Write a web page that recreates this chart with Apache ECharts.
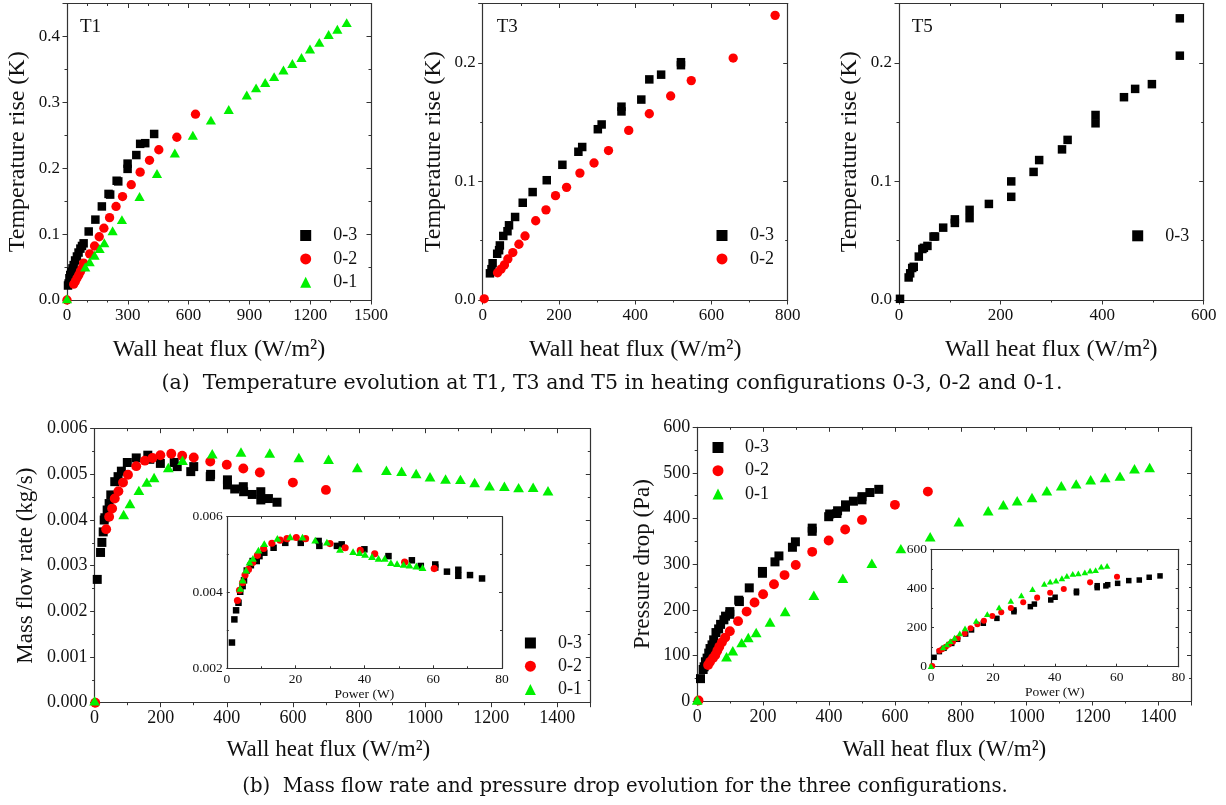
<!DOCTYPE html>
<html><head><meta charset="utf-8">
<script src="https://cdn.jsdelivr.net/npm/echarts@6/dist/echarts.min.js"></script>
<style>html,body{margin:0;padding:0;background:#fff}#c{width:1226px;height:805px}</style>
</head><body><div id="c"></div>
<script>
// ---------- DATA ----------
const seriesNames = ['0-3', '0-2', '0-1'];
// T1 panel: wall heat flux (W/m2) vs temperature rise (K)
const t1_03 = [[5,0.022],[8,0.025],[12,0.033],[16,0.038],[21,0.043],[27,0.048],[33,0.053],[40,0.06],[49,0.066],[57,0.072],[66,0.078],[74,0.082],[82,0.086],[107,0.104],[140,0.122],[172,0.142],[205,0.161],[213,0.160],[245,0.181],[253,0.180],[299,0.207],[299,0.199],[342,0.220],[361,0.237],[386,0.238],[430,0.252]];
const t1_02 = [[0,0],[33,0.024],[41,0.028],[49,0.033],[58,0.038],[66,0.043],[74,0.048],[82,0.056],[112,0.07],[136,0.082],[159,0.096],[182,0.109],[210,0.125],[242,0.142],[274,0.157],[317,0.175],[361,0.194],[407,0.212],[453,0.228],[542,0.247],[634,0.282]];
const t1_01 = [[0,0.002],[90,0.05],[112,0.058],[136,0.068],[161,0.078],[184,0.087],[225,0.105],[271,0.122],[358,0.157],[444,0.192],[532,0.223],[621,0.25],[710,0.273],[798,0.289],[887,0.311],[933,0.322],[978,0.33],[1022,0.339],[1068,0.349],[1112,0.359],[1157,0.368],[1199,0.381],[1245,0.391],[1291,0.403],[1334,0.411],[1380,0.421]];
// T3 panel
const t3_03 = [[19,0.0225],[23,0.026],[26,0.031],[38,0.039],[43,0.042],[45,0.046],[54,0.054],[65,0.058],[69,0.063],[85,0.070],[105,0.082],[131,0.091],[168,0.101],[209,0.114],[251,0.125],[261,0.129],[302,0.144],[312,0.148],[364,0.159],[364,0.163],[416,0.169],[437,0.186],[468,0.19],[520,0.198],[520,0.2005]];
const t3_02 = [[4,0.001],[39,0.023],[48,0.026],[57,0.0296],[66,0.0346],[79,0.040],[95,0.047],[111,0.054],[139,0.0668],[166,0.076],[191,0.088],[220,0.095],[255,0.107],[292,0.1155],[330,0.126],[383,0.143],[437,0.157],[493,0.172],[547,0.185],[657,0.204],[767,0.240]];
// T5 panel
const t5_03 = [[2,0.001],[19,0.019],[22,0.0225],[26,0.027],[29,0.028],[39,0.0366],[46,0.043],[49,0.044],[56,0.0456],[68,0.0535],[71,0.0535],[87,0.061],[110,0.065],[110,0.068],[139,0.069],[139,0.076],[177,0.081],[221,0.087],[221,0.100],[265,0.108],[276,0.118],[321,0.127],[332,0.135],[387,0.149],[387,0.156],[443,0.171],[465,0.178],[498,0.182],[553,0.206],[553,0.2375]];
// Mass flow rate (kg/s) vs wall heat flux
const mf_03 = [[8,0.0027],[18,0.00329],[22,0.00351],[26,0.00374],[29,0.0040],[31,0.00405],[38,0.00422],[44,0.00436],[49,0.00455],[61,0.00484],[71,0.00495],[81,0.00507],[99,0.00526],[126,0.00536],[161,0.00542],[167,0.00533],[199,0.00524],[241,0.00526],[250,0.00517],[291,0.00506],[300,0.00517],[350,0.00495],[351,0.005],[402,0.00488],[402,0.00477],[424,0.00468],[450,0.00473],[451,0.00462],[477,0.00456],[503,0.00462],[503,0.00444],[526,0.00447],[552,0.00439]];
const mf_02 = [[2,0],[35,0.0038],[44,0.00407],[53,0.00425],[61,0.00447],[72,0.00463],[86,0.00482],[101,0.00499],[126,0.00518],[152,0.0053],[175,0.00536],[199,0.00542],[232,0.00545],[265,0.00541],[300,0.00537],[350,0.00528],[400,0.00521],[450,0.00513],[500,0.00504],[600,0.00482],[700,0.00466]];
const mf_01 = [[0,0.00004],[88,0.00412],[107,0.00436],[134,0.00465],[158,0.00483],[180,0.00493],[223,0.00515],[266,0.00531],[356,0.00545],[443,0.00549],[530,0.00547],[618,0.00537],[708,0.00533],[795,0.00515],[883,0.00509],[929,0.00507],[973,0.00502],[1015,0.00495],[1062,0.0049],[1107,0.00489],[1150,0.00482],[1195,0.00475],[1240,0.00474],[1283,0.00471],[1327,0.00472],[1372,0.00464]];
// Mass flow rate vs power (W), inset
const mfp_03 = [[1.5,0.00268],[2.2,0.00329],[2.7,0.00353],[3.4,0.00373],[3.9,0.00402],[4.6,0.00417],[5.0,0.00432],[5.8,0.00458],[7.0,0.00472],[7.5,0.00483],[8.7,0.00483],[9.5,0.00496],[10.9,0.00505],[13.6,0.00518],[17.0,0.00531],[21.5,0.00531],[26.7,0.00536],[26.9,0.00523],[32,0.00523],[33.4,0.00527],[40,0.00514],[47,0.00496],[53.8,0.00485],[56.4,0.0047],[60.6,0.00474],[60.6,0.00466],[64,0.00455],[67.3,0.0046],[67.3,0.00444],[70.7,0.00446],[74.2,0.00437]];
const mfp_02 = [[3.1,0.00379],[3.7,0.00406],[4.6,0.00426],[5.3,0.00446],[6.3,0.00461],[7.5,0.00479],[8.9,0.00498],[10.7,0.00516],[13.1,0.0053],[15.5,0.00538],[17.5,0.00542],[20.2,0.00545],[22.9,0.00542],[30,0.00529],[34.4,0.00518],[38.8,0.00511],[43,0.00502],[51.7,0.0048],[60.3,0.00463]];
const mfp_01 = [[3.9,0.00411],[4.6,0.00433],[5.6,0.00459],[6.6,0.0048],[7.6,0.0049],[9.2,0.00512],[10.9,0.00529],[14.7,0.00543],[18.4,0.00547],[22,0.00546],[25.7,0.00538],[29.1,0.00533],[32.9,0.00514],[36.7,0.00508],[38.6,0.00505],[40.2,0.00501],[42.2,0.00495],[44.1,0.0049],[45.9,0.0049],[47.7,0.00479],[49.5,0.00476],[51.4,0.00474],[53.1,0.00472],[55.1,0.0047],[56.9,0.00466]];
// Pressure drop (Pa) vs wall heat flux
const pd_03 = [[10,49],[18,69],[21,75],[25,86],[30,94],[35,105],[39,115],[45,123],[50,134],[57,150],[65,158],[71,168],[81,178],[86,186],[99,196],[99,190],[126,221],[128,218],[158,248],[198,284],[198,280],[236,305],[248,318],[289,337],[298,349],[349,379],[349,372],[399,404],[402,410],[424,411],[426,417],[450,425],[450,430],[474,438],[500,441],[500,448],[524,457],[551,464]];
const pd_02 = [[4,1],[33,79],[39,86],[48,94],[55,101],[61,110],[67,119],[75,129],[85,139],[99,153],[124,175],[150,196],[174,216],[200,234],[233,256],[265,276],[299,298],[349,327],[399,352],[449,376],[500,397],[600,430],[700,459]];
const pd_01 = [[0,2],[89,97],[108,110],[135,128],[155,139],[179,150],[221,173],[267,196],[354,232],[442,269],[530,302],[618,334],[707,360],[794,393],[883,417],[929,430],[971,439],[1016,446],[1061,461],[1105,472],[1150,476],[1194,485],[1238,490],[1283,493],[1327,509],[1373,512]];
// Pressure drop vs power (W), inset
const pdp_03 = [[1,48],[2.7,77],[4.2,94],[6.7,119],[8.6,140],[11.2,167],[13.1,188],[16.9,222],[21.3,247],[26.8,281],[26.8,290],[32.1,307],[33.4,320],[38.7,341],[40.1,355],[47,378],[47,386],[53.7,404],[53.7,414],[56.5,413],[57.1,419],[60.3,426],[63.9,440],[67.3,443],[70.5,457],[74,464]];
const pdp_02 = [[0.4,3],[2.7,82],[3.6,89],[4.8,102],[5.8,114],[7.1,128],[8.6,145],[10.9,170],[12.8,196],[15,217],[17.1,235],[19.8,259],[22.7,278],[25.8,300],[29.8,329],[34.3,353],[38.5,378],[42.9,397],[51.4,431],[60.1,460]];
const pdp_01 = [[0,3],[3.9,99],[5.1,114],[6.2,131],[7.6,148],[9.3,170],[11,196],[14.6,234],[18.2,269],[22,303],[25.8,336],[29.2,365],[32.8,396],[36.6,423],[38.5,435],[40.4,440],[42.3,452],[43.9,464],[45.8,474],[47.6,477],[49.7,482],[51.4,491],[53.2,494],[55,511],[56.9,515]];

const panelTags = ['T1', 'T3', 'T5'];
const xTitleFlux = 'Wall heat flux (W/m²)';
const xTitlePower = 'Power (W)';
const yTitleT = 'Temperature rise (K)';
const yTitleMass = 'Mass flow rate (kg/s)';
const yTitleDp = 'Pressure drop (Pa)';
const captionA = '(a)  Temperature evolution at T1, T3 and T5 in heating configurations 0-3, 0-2 and 0-1.';
const captionB = '(b)  Mass flow rate and pressure drop evolution for the three configurations.';

// ---------- STYLE ----------
const FONT = '"Liberation Serif", "Times New Roman", serif';
const CAPFONT = '"DejaVu Serif", serif';
const COL = {'0-3': '#000000', '0-2': '#ff0000', '0-1': '#00f000'};
const SYM = {'0-3': 'rect', '0-2': 'circle', '0-1': 'triangle'};
const AX = '#333';

const grids = [
  {left: 67, top: 3.5, width: 304, height: 296.5},
  {left: 482.7, top: 3.5, width: 305, height: 296.5},
  {left: 899, top: 3.5, width: 304.7, height: 296.5},
  {left: 94.6, top: 428.7, width: 495.7, height: 274},
  {left: 226.8, top: 516.7, width: 275.2, height: 151.6, backgroundColor: '#fff', show: true, borderWidth: 0},
  {left: 697.2, top: 427.3, width: 494.3, height: 273.7},
  {left: 931, top: 549.3, width: 247.6, height: 117.4, backgroundColor: '#fff', show: true, borderWidth: 0}
];

const specs = [
  {x:[0,1500,300,3], y:[0,0.45,0.1,2], yf:v=>v.toFixed(1), fs:17, inset:false, xn:xTitleFlux, yn:yTitleT, xg:38, yg:37, ns:24, hideXMax:false, hideYMax:true},
  {x:[0,800,200,2], y:[0,0.25,0.1,2], yf:v=>v.toFixed(1), fs:17, inset:false, xn:xTitleFlux, yn:yTitleT, xg:38, yg:37, ns:24, hideXMax:false, hideYMax:true},
  {x:[0,600,200,2], y:[0,0.25,0.1,2], yf:v=>v.toFixed(1), fs:17, inset:false, xn:xTitleFlux, yn:yTitleT, xg:38, yg:37, ns:24, hideXMax:false, hideYMax:true},
  {x:[0,1500,200,2], y:[0,0.006,0.001,2], yf:v=>v.toFixed(3), fs:18, inset:false, xn:xTitleFlux, yn:yTitleMass, xg:36, yg:57, ns:23, hideXMax:true, hideYMax:false, xpad:[0,28,0,0]},
  {x:[0,80,20,2], y:[0.002,0.006,0.002,2], yf:v=>v.toFixed(3), fs:13.5, inset:true, xn:xTitlePower, yn:'', xg:14, yg:0, ns:13.5, hideXMax:false, hideYMax:false},
  {x:[0,1500,200,2], y:[0,600,100,2], yf:v=>String(Math.round(v)), fs:18, inset:false, xn:xTitleFlux, yn:yTitleDp, xg:37, yg:43, ns:23, hideXMax:true, hideYMax:false},
  {x:[0,80,20,2], y:[0,600,200,2], yf:v=>String(Math.round(v)), fs:13.5, inset:true, xn:xTitlePower, yn:'', xg:14, yg:0, ns:13.5, hideXMax:false, hideYMax:false}
];

const xAxes = [], yAxes = [];
specs.forEach((s, g) => {
  const tl = s.inset ? 3 : 4.5, ml = s.inset ? 2 : 2.5;
  const base = (r, primary, pos, isX) => ({
    type: 'value', gridIndex: g, position: pos, min: r[0], max: r[1], interval: r[2],
    axisLine: {show: true, onZero: false, lineStyle: {color: AX, width: 1.2}},
    axisTick: {show: true, inside: s.inset ? true : !primary, length: tl, lineStyle: {color: AX, width: 1}},
    minorTick: {show: true, splitNumber: r[3], length: ml, lineStyle: {color: AX, width: 1}},
    splitLine: {show: false}, minorSplitLine: {show: false},
    axisLabel: {show: primary, color: '#111', fontFamily: FONT, fontSize: s.fs, margin: s.inset ? 4 : 7,
      showMaxLabel: isX ? !s.hideXMax : !s.hideYMax,
      formatter: isX ? (v => String(Math.round(v))) : s.yf},
    silent: true
  });
  const xb = base(s.x, true, 'bottom', true);
  xb.name = s.xn; xb.nameLocation = 'middle'; xb.nameGap = s.xg;
  xb.nameTextStyle = {fontFamily: FONT, fontSize: s.ns, color: '#111', padding: s.xpad || 0};
  const xt = base(s.x, false, 'top', true);
  const yl = base(s.y, true, 'left', false);
  yl.name = s.yn; yl.nameLocation = 'middle'; yl.nameGap = s.yg;
  yl.nameTextStyle = {fontFamily: FONT, fontSize: s.ns, color: '#111'};
  const yr = base(s.y, false, 'right', false);
  xAxes.push(xb, xt); yAxes.push(yl, yr);
});

function sc(name, data, g, size) {
  const sz = SYM[name] === 'triangle' ? [size * 1.2, size * 1.05] : (SYM[name] === 'circle' ? size * 1.1 : size);
  return {type: 'scatter', name, data, xAxisIndex: 2 * g, yAxisIndex: 2 * g, symbol: SYM[name],
    symbolSize: sz, itemStyle: {color: COL[name], opacity: 1}, silent: true, z: 3};
}

const series = [
  sc('0-3', t1_03, 0, 8.5), sc('0-2', t1_02, 0, 8.5), sc('0-1', t1_01, 0, 8.5),
  sc('0-3', t3_03, 1, 8.5), sc('0-2', t3_02, 1, 8.5),
  sc('0-3', t5_03, 2, 8.5),
  sc('0-3', mf_03, 3, 9), sc('0-2', mf_02, 3, 9), sc('0-1', mf_01, 3, 9),
  sc('0-3', mfp_03, 4, 6.5), sc('0-2', mfp_02, 4, 6.5), sc('0-1', mfp_01, 4, 6.5),
  sc('0-3', pd_03, 5, 9), sc('0-2', pd_02, 5, 9), sc('0-1', pd_01, 5, 9),
  sc('0-3', pdp_03, 6, 5.5), sc('0-2', pdp_02, 6, 5.5), sc('0-1', pdp_01, 6, 5.5)
];

function lg(left, top, names, gap, pad) {
  return {left, top, orient: 'vertical', padding: 0, itemWidth: 11, itemHeight: 11, itemGap: gap - 17,
    selectedMode: false,
    data: names.map(n => ({name: n, icon: SYM[n]})),
    textStyle: {fontFamily: FONT, fontSize: 18, color: '#111', padding: [0, 0, 0, pad]}};
}
const legends = [
  lg(300.2, 226.5, seriesNames, 22.4, 17),
  lg(716.5, 226.5, seriesNames.slice(0, 2), 22.4, 17.5),
  lg(1132.2, 226.8, seriesNames.slice(0, 1), 22.4, 17),
  lg(524.9, 634, seriesNames, 22.2, 17),
  lg(712.5, 438.5, seriesNames, 22.2, 16.6)
];

const tagPos = [[80, 27.5], [496.7, 27.5], [911.7, 27.5]];
const graphics = panelTags.map((t, i) => ({type: 'text', x: tagPos[i][0], y: tagPos[i][1],
  style: {text: t, fill: '#111', font: '19px ' + FONT, align: 'left', verticalAlign: 'middle'}}));
graphics.push({type: 'text', x: 612, y: 384, style: {text: captionA, fill: '#111', font: '20.5px ' + CAPFONT, align: 'center', verticalAlign: 'middle'}});
graphics.push({type: 'text', x: 625, y: 787, style: {text: captionB, fill: '#111', font: '19.7px ' + CAPFONT, align: 'center', verticalAlign: 'middle'}});

const chart = echarts.init(document.getElementById('c'), null, {renderer: 'canvas'});
chart.setOption({
  animation: false,
  backgroundColor: '#fff',
  grid: grids,
  xAxis: xAxes,
  yAxis: yAxes,
  legend: legends,
  series,
  graphic: graphics
});
</script></body></html>
